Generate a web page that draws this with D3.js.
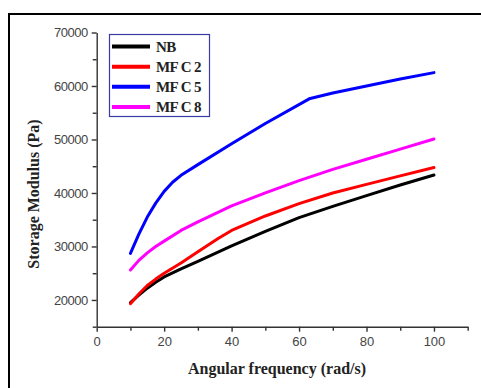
<!DOCTYPE html>
<html>
<head>
<meta charset="utf-8">
<script src="https://cdn.jsdelivr.net/npm/d3@7"></script>
<style>
  body { margin: 0; background: #fff; }
  svg { display: block; }
</style>
</head>
<body>
<svg id="chart" width="481" height="388"></svg>
<script>
// values
const seriesNames = ["NB", "MF C 2", "MF C 5", "MF C 8"];
const seriesColors = ["#000000", "#ff0000", "#0000ff", "#ff00ff"];

const nbFreq = [10, 12.5, 15, 17.5, 20, 25, 30, 40, 50, 60, 70, 80, 90, 100];
const nbVals = [19500, 20900, 22200, 23300, 24300, 25800, 27200, 30100, 32800, 35400, 37500, 39500, 41500, 43350];

const mfc2Freq = [10, 12.5, 15, 17.5, 20, 25, 30, 36, 40, 50, 60, 70, 80, 90, 100];
const mfc2Vals = [19300, 21100, 22700, 23900, 25000, 26900, 29000, 31500, 33000, 35700, 38000, 40000, 41600, 43200, 44750];

const mfc5Freq = [10, 12.5, 15, 17.5, 20, 22.5, 25, 30, 40, 50, 63, 70, 80, 90, 100];
const mfc5Vals = [28700, 32300, 35500, 38100, 40300, 42000, 43300, 45300, 49200, 53000, 57600, 58700, 60000, 61300, 62500];

const mfc8Freq = [10, 12.5, 15, 17.5, 20, 25, 30, 40, 50, 60, 70, 80, 90, 100];
const mfc8Vals = [25600, 27400, 28800, 30000, 31000, 33000, 34600, 37600, 40000, 42300, 44400, 46300, 48200, 50100];

const xTicks = [0, 20, 40, 60, 80, 100];
const yTicks = [20000, 30000, 40000, 50000, 60000, 70000];

const allFreq = [nbFreq, mfc2Freq, mfc5Freq, mfc8Freq];
const allVals = [nbVals, mfc2Vals, mfc5Vals, mfc8Vals];

const svg = d3.select("#chart");

// outer frame (only top and left edges show)
svg.append("path")
    .attr("d", "M9,388 V14 H481")
    .attr("fill", "none")
    .attr("stroke", "#000")
    .attr("stroke-width", 2);

const x = d3.scaleLinear().domain([0, 110]).range([96.7, 467.7]);
const y = d3.scaleLinear().domain([15000, 70000]).range([326.7, 32.5]);

const axisColor = "#333";

// minor ticks
svg.append("g")
    .attr("transform", "translate(0,326.7)")
    .call(d3.axisBottom(x).tickValues(d3.range(10, 111, 20)).tickSize(4).tickFormat("").tickSizeOuter(0))
    .call(g => g.select(".domain").remove());
svg.append("g")
    .attr("transform", "translate(96.7,0)")
    .call(d3.axisLeft(y).tickValues(d3.range(15000, 70000, 10000)).tickSize(4).tickFormat("").tickSizeOuter(0))
    .call(g => g.select(".domain").remove());

// x axis
const gx = svg.append("g")
    .attr("transform", "translate(0,326.7)")
    .call(d3.axisBottom(x).tickValues(xTicks).tickSize(5).tickSizeOuter(0).tickPadding(5));
gx.selectAll("text")
    .style("font-family", "'Liberation Sans', Arial, sans-serif")
    .style("font-size", "13px")
    .attr("fill", "#444");

// y axis
const gy = svg.append("g")
    .attr("transform", "translate(96.7,0)")
    .call(d3.axisLeft(y).tickValues(yTicks).tickSize(5).tickSizeOuter(0).tickPadding(4).tickFormat(d3.format("d")));
gy.selectAll("text")
    .style("font-family", "'Liberation Sans', Arial, sans-serif")
    .style("font-size", "13px")
    .style("letter-spacing", "-0.5px")
    .attr("fill", "#444");

svg.selectAll(".domain, .tick line")
    .attr("stroke", axisColor)
    .attr("stroke-width", 1.4);

// lines
const line = d3.line()
    .x(d => x(d[0]))
    .y(d => y(d[1]));

allFreq.forEach(function (f, i) {
    const pts = f.map((v, j) => [v, allVals[i][j]]);
    svg.append("path")
        .datum(pts)
        .attr("fill", "none")
        .attr("stroke", seriesColors[i])
        .attr("stroke-width", 3)
        .attr("stroke-linejoin", "round")
        .attr("stroke-linecap", "round")
        .attr("d", line);
});

// axis titles
svg.append("text")
    .attr("x", 277)
    .attr("y", 374)
    .attr("text-anchor", "middle")
    .style("font-family", "'Liberation Serif', 'Times New Roman', serif")
    .style("font-weight", "bold")
    .style("font-size", "16px")
    .attr("fill", "#222")
    .text("Angular frequency (rad/s)");

svg.append("text")
    .attr("transform", "translate(39,194) rotate(-90)")
    .attr("text-anchor", "middle")
    .style("font-family", "'Liberation Serif', 'Times New Roman', serif")
    .style("font-weight", "bold")
    .style("font-size", "16px")
    .attr("fill", "#222")
    .text("Storage Modulus (Pa)");

// legend
const legend = svg.append("g");
legend.append("rect")
    .attr("x", 109.5)
    .attr("y", 34.5)
    .attr("width", 100)
    .attr("height", 82)
    .attr("fill", "#fff")
    .attr("stroke", "#3a3aa8")
    .attr("stroke-width", 1.2);

const legendY = d3.scalePoint().domain(seriesNames).range([46.5, 107]);

seriesNames.forEach(function (name, i) {
    legend.append("line")
        .attr("x1", 112).attr("x2", 150)
        .attr("y1", legendY(name)).attr("y2", legendY(name))
        .attr("stroke", seriesColors[i])
        .attr("stroke-width", 4);
    legend.append("text")
        .attr("x", 156)
        .attr("y", legendY(name) + 5)
        .style("font-family", "'Liberation Serif', 'Times New Roman', serif")
        .style("font-weight", "bold")
        .style("font-size", "15px")
        .style("letter-spacing", "-0.6px")
        .attr("fill", "#222")
        .text(name);
});
</script>
</body>
</html>
